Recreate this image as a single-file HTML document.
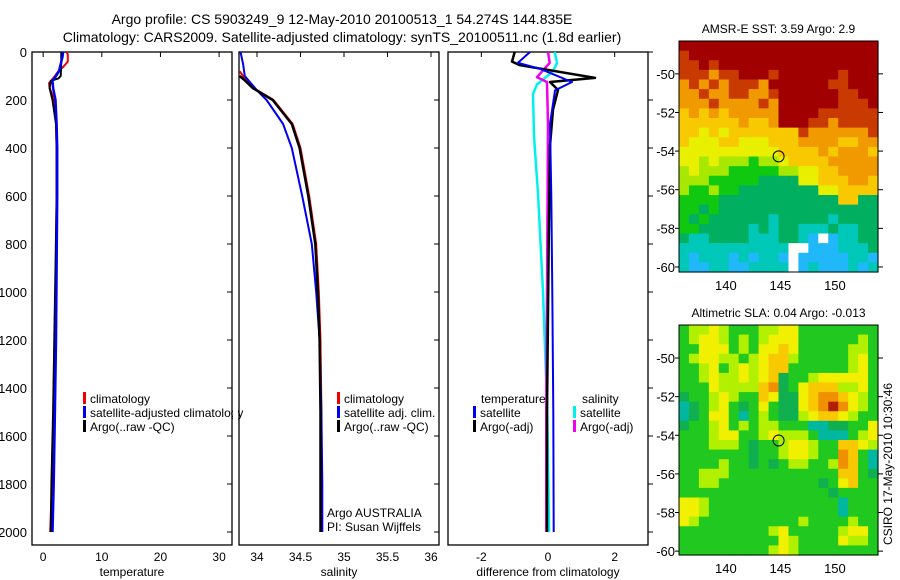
<!DOCTYPE html>
<html><head><meta charset="utf-8"><style>
body{margin:0;background:#fff;}
svg{display:block;font-family:"Liberation Sans",sans-serif;}
</style></head><body>
<svg id="fig" width="900" height="580" viewBox="0 0 900 580">
<rect width="900" height="580" fill="#fff"/>
<text x="342" y="24" font-size="14" text-anchor="middle">Argo profile: CS 5903249_9 12-May-2010 20100513_1 54.274S 144.835E</text>
<text x="342" y="42" font-size="14" text-anchor="middle">Climatology: CARS2009. Satellite-adjusted climatology: synTS_20100511.nc (1.8d earlier)</text>
<g id="plots"></g>
</svg>
<script>
// ---- data ----
const depthTicks=[0,200,400,600,800,1000,1200,1400,1600,1800,2000];
const tempTicks=[0,10,20,30];
const salTicks=[34,34.5,35,35.5,36];
const salTickLabels=["34","34.5","35","35.5","36"];
const diffTicks=[-2,0,2];
const mapLatTicks=[-50,-52,-54,-56,-58,-60];
const mapLonTicks=[140,145,150];
const argoLat=-54.274, argoLon=144.835;

const tClimDepth=[0,10,40,60,80,100,130,150,180,220,300,400,600,900,1200,1500,1800,2000];
const tClimVal=[4.0,4.2,4.2,3.5,2.6,2.0,1.0,1.1,1.6,2.0,2.2,2.3,2.3,2.2,2.0,1.8,1.5,1.2];
const tSatDepth=[0,20,50,80,100,120,150,200,300,400,600,900,1200,1500,1800,2000];
const tSatVal=[3.4,3.3,3.0,2.7,2.2,1.6,1.7,2.1,2.3,2.4,2.4,2.3,2.2,2.0,1.8,1.6];
const tArgoDepth=[0,40,100,110,120,150,200,300,400,600,900,1200,1500,1800,2000];
const tArgoVal=[3.1,3.1,3.0,2.6,1.3,1.1,1.6,2.2,2.3,2.3,2.1,1.9,1.7,1.4,1.3];

const sClimDepth=[80,100,150,200,300,400,600,800,1000,1200,1500,1800,2000];
const sClimVal=[33.8,33.84,33.96,34.19,34.41,34.50,34.60,34.68,34.71,34.73,34.74,34.73,34.73];
const sSatDepth=[0,50,100,160,200,300,400,600,800,1000,1200,1500,1800,2000];
const sSatVal=[33.81,33.84,33.86,34.0,34.11,34.30,34.40,34.52,34.63,34.68,34.72,34.74,34.75,34.75];
const sArgoDepth=[100,115,150,200,300,400,600,800,1000,1200,1500,1800,2000];
const sArgoVal=[33.8,33.85,33.95,34.18,34.40,34.49,34.59,34.67,34.70,34.72,34.73,34.73,34.73];

const dTSatDepth=[0,45,70,125,160,300,600,1000,1500,2000];
const dTSatVal=[-0.54,-0.9,-0.24,0.72,0.21,0.06,0.1,0.13,0.16,0.17];
const dTArgoDepth=[0,40,55,108,125,158,240,390,800,1500,2000];
const dTArgoVal=[-1.0,-1.08,-0.84,1.41,0.06,0.3,0.15,0.06,0.02,-0.03,-0.03];
const dSSatDepth=[0,45,80,135,175,350,590,1000,1500,2000];
const dSSatVal=[0.2,0.27,0.15,-0.33,-0.45,-0.42,-0.3,-0.15,-0.02,0.03];
const dSArgoDepth=[0,45,105,125,300,800,1500,2000];
const dSArgoVal=[0.0,0.05,-0.33,-0.03,0.0,-0.02,-0.05,-0.05];

const sstRows=["99999999999999999999","89999999999999999999","88989999999999999999","88878899989999998999","78787888799999988999","77877887789999998899","77787777879999998889","67676777779999888888","66666676679998878888","66565666666687777778","65556655566677776677","55555555556666767776","55454443445666677777","45444333334455667777","44433333222255666776","43343322222222556666","33332222222222226622","33232222222222222222","32322222212222212222","33222221212211121122","21122221112210w01122","11111111111ww0001112","10111010110w00000110","10011001111w01000101"];
const slaRows=["45565444556644444444","45665454566644444454","44666454667644444554","45665545677544444564","44564565677444444564","44565565673445666664","44465555783467775564","34456544763367887654","23456434643367898654","23466424543356776544","34456454554442233446","44456644565554222456","44455543445665447765","44444443445665448742","44445443434554458742","44555444444444447743","44554444444444346744","44444444444444434444","66544444444444442444","66544444444444442444","65444444444454444544","44444444456444445664","44444444446544446554","44444444456544444444"];
const sstColors={"9":"#a00000","8":"#c83a00","7":"#f09a00","6":"#f8c800","5":"#e8f000","4":"#a8e800","3":"#10c810","2":"#00b060","1":"#00c8b8","0":"#20b8f8","w":"#ffffff"};
const slaColors={"0":"#1070f0","1":"#00c8e8","2":"#00b8a0","3":"#10b050","4":"#20c820","5":"#b0f000","6":"#f0f000","7":"#f8c800","8":"#f09000","9":"#b02000"};

// ---- helpers ----
const NS="http://www.w3.org/2000/svg";
const root=document.getElementById('plots');
function mk(tag,attrs,parent){const e=document.createElementNS(NS,tag);for(const k in attrs)e.setAttribute(k,attrs[k]);(parent||root).appendChild(e);return e;}
function txt(x,y,s,anchor,size,parent){const t=mk('text',{x:x,y:y,'font-size':size||12,'text-anchor':anchor||'start'},parent);t.textContent=s;return t;}

const PT=52,PB=545;
const yDepth=d=>52+d*0.24;

function panel(name,x0,x1,vmin,vmax,ticks,labels,title,ylabels,rightOut){
  const g=mk('g',{});
  
  
  const sx=v=>x0+(v-vmin)/(vmax-vmin)*(x1-x0);
  const fr=mk('rect',{x:x0,y:PT,width:x1-x0,height:PB-PT,fill:'none',stroke:'#000','stroke-width':1.3},g);
  
  
  ticks.forEach((v,i)=>{
    mk('line',{x1:sx(v),x2:sx(v),y1:PT,y2:PT+5,stroke:'#000'},g);
    const t=txt(sx(v),561,labels[i],'middle',12,g);
    
    
  });
  depthTicks.forEach(d=>{
    if(rightOut) mk('line',{x1:x1,x2:x1+5,y1:yDepth(d),y2:yDepth(d),stroke:'#000'},g);
    else mk('line',{x1:x1-5,x2:x1,y1:yDepth(d),y2:yDepth(d),stroke:'#000'},g);
    if(ylabels){const t=txt(27,yDepth(d)+5,String(d),'end',13,g);
      
      }
  });
  const at=txt((x0+x1)/2,576,title,'middle',12,g);
  
  
  return {g,sx};
}
function profile(p,depths,vals,color,w,name){
  const pts=depths.map((d,i)=>p.sx(vals[i]).toFixed(1)+','+yDepth(d).toFixed(1)).join(' ');
  const l=mk('polyline',{points:pts,fill:'none',stroke:color,'stroke-width':w,'stroke-linejoin':'round'},p.g);
  
  
}
function legend(g,x,y,color,label,name){
  const r=mk('rect',{x:x,y:y-11,width:3,height:12,fill:color},g);
  
  
  const t=txt(x+7,y,label,'start',12,g);
  
  
}

// temperature
const pT=panel('temperature',32,232,-1.9,32.2,tempTicks,tempTicks.map(String),'temperature',true,false);
profile(pT,tClimDepth,tClimVal,'#f00000',2,'temp-climatology-line');
profile(pT,tArgoDepth,tArgoVal,'#000',2,'temp-argo-line');
profile(pT,tSatDepth,tSatVal,'#0000f0',2.5,'temp-satellite-line');
legend(pT.g,83,403,'#f00000','climatology','legend-climatology');
legend(pT.g,83,417,'#0000f0','satellite-adjusted climatology','legend-satellite-adjusted');
legend(pT.g,83,431,'#000','Argo(..raw -QC)','legend-argo');
root.appendChild(mk('rect',{x:233,y:390,width:5,height:50,fill:'#fff'}));

// salinity
const pS=panel('salinity',239,439,33.793,36.092,salTicks,salTickLabels,'salinity',false,false);
profile(pS,sClimDepth,sClimVal,'#f00000',2,'sal-climatology-line');
profile(pS,sSatDepth,sSatVal,'#0000f0',2,'sal-satellite-line');
profile(pS,sArgoDepth,sArgoVal,'#000',2.5,'sal-argo-line');
legend(pS.g,337,403,'#f00000','climatology','legend-sal-climatology');
legend(pS.g,337,417,'#0000f0','satellite adj. clim.','legend-sal-satellite');
legend(pS.g,337,431,'#000','Argo(..raw -QC)','legend-sal-argo');
const a1=txt(327,517,'Argo AUSTRALIA','start',12,pS.g);


const a2=txt(327,531,'PI: Susan Wijffels','start',12,pS.g);



// difference
const pD=panel('difference',448,648,-3.0,3.0,diffTicks,diffTicks.map(String),'difference from climatology',false,true);
profile(pD,dSSatDepth,dSSatVal,'#00f0f0',2.5,'diff-sal-satellite-line');
profile(pD,dSArgoDepth,dSArgoVal,'#f000f0',2.5,'diff-sal-argo-line');
profile(pD,dTArgoDepth,dTArgoVal,'#000',2.5,'diff-temp-argo-line');
profile(pD,dTSatDepth,dTSatVal,'#0000f0',2,'diff-temp-satellite-line');
const ht=txt(481,403,'temperature','start',12,pD.g);


const hs=txt(582,403,'salinity','start',12,pD.g);


legend(pD.g,473,417,'#0000f0','satellite','legend-diff-temp-satellite');
legend(pD.g,473,431,'#000','Argo(-adj)','legend-diff-temp-argo');
legend(pD.g,573,417,'#00f0f0','satellite','legend-diff-sal-satellite');
legend(pD.g,573,431,'#f000f0','Argo(-adj)','legend-diff-sal-argo');

// maps
function map(name,rows,colors,x0,x1,y0,y1,latTop,latBot,title){
  const g=mk('g',{});
  
  
  const lonL=135.7,lonR=153.95;
  const sx=v=>x0+(v-lonL)/(lonR-lonL)*(x1-x0);
  const sy=v=>y0+(latTop-v)/(latTop-latBot)*(y1-y0);
  const nr=rows.length,nc=rows[0].length;
  const cw=(x1-x0)/nc,ch=(y1-y0)/nr;
  rows.forEach((row,r)=>{for(let c=0;c<nc;c++){
    const cell=mk('rect',{x:(x0+c*cw).toFixed(2),y:(y0+r*ch).toFixed(2),width:(cw+0.6).toFixed(2),height:(ch+0.6).toFixed(2),fill:colors[row[c]]},g);
    
    
  }});
  mk('rect',{x:x0,y:y0,width:x1-x0,height:y1-y0,fill:'none',stroke:'#000','stroke-width':1},g);
  mapLatTicks.forEach(v=>{
    mk('line',{x1:x1,x2:x1+5,y1:sy(v),y2:sy(v),stroke:'#000'},g);
    mk('line',{x1:x0-4,x2:x0,y1:sy(v),y2:sy(v),stroke:'#000'},g);
    const t=txt(x0-4,sy(v)+5,String(v),'end',13,g);
    
    
  });
  mapLonTicks.forEach(v=>{
    const t=txt(sx(v),y1+18,String(v),'middle',13,g);
    
    
  });
  const c=mk('circle',{cx:sx(argoLon),cy:sy(argoLat),r:5.5,fill:'none',stroke:'#000','stroke-width':1},g);
  
  
  const t=txt((x0+x1)/2,y0-8,title,'middle',12,g);
  
  
}
map('sst-map',sstRows,sstColors,679,878,41,272,-48.3,-60.26,'AMSR-E SST: 3.59 Argo: 2.9');
map('sla-map',slaRows,slaColors,679,878,325,555,-48.29,-60.2,'Altimetric SLA: 0.04 Argo: -0.013');
const cs=txt(0,0,'CSIRO 17-May-2010 10:30:46','middle',12);
cs.setAttribute('transform','translate(892,464) rotate(-90)');


</script>
</body></html>
